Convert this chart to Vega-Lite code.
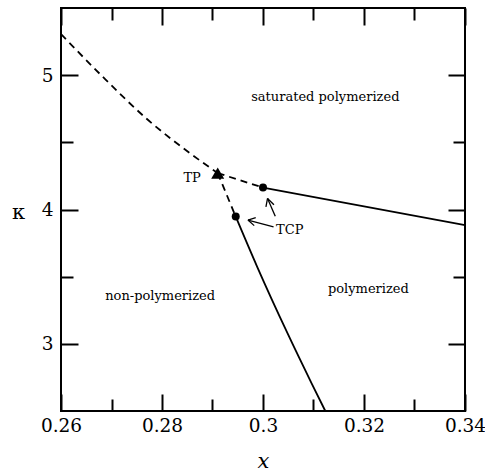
{
  "$schema": "https://vega.github.io/schema/vega-lite/v6.json",
  "width": 404,
  "height": 403,
  "autosize": {"type": "none"},
  "padding": {"left": 61, "top": 8, "right": 20, "bottom": 60},
  "config": {
    "font": "DejaVu Serif",
    "view": {"stroke": "black", "strokeWidth": 2},
    "axis": {
      "domain": false, "grid": false, "tickColor": "black", "tickWidth": 2,
      "labelFont": "DejaVu Serif", "labelFontSize": 18.5, "labelColor": "black",
      "titleFont": "DejaVu Serif", "titleFontSize": 21, "titleColor": "black", "titleFontWeight": "normal"
    },
    "style": {"guide-label": {"font": "DejaVu Serif"}, "guide-title": {"font": "DejaVu Serif"}},
    "text": {"font": "DejaVu Serif"}
  },
  "datasets": {
    "dashed": [
      {"seg": "a", "i": 0, "x": 0.26, "k": 5.306},
      {"seg": "a", "i": 1, "x": 0.26813, "k": 4.993},
      {"seg": "a", "i": 2, "x": 0.27725, "k": 4.666},
      {"seg": "a", "i": 3, "x": 0.28558, "k": 4.418},
      {"seg": "a", "i": 4, "x": 0.29103, "k": 4.271},
      {"seg": "b", "i": 0, "x": 0.29103, "k": 4.271},
      {"seg": "b", "i": 1, "x": 0.3, "k": 4.163},
      {"seg": "c", "i": 0, "x": 0.29103, "k": 4.271},
      {"seg": "c", "i": 1, "x": 0.2946, "k": 3.947}
    ],
    "solid": [
      {"seg": "a", "i": 0, "x": 0.3, "k": 4.163},
      {"seg": "a", "i": 1, "x": 0.34, "k": 3.883},
      {"seg": "b", "i": 0, "x": 0.2946, "k": 3.947},
      {"seg": "b", "i": 1, "x": 0.29885, "k": 3.573},
      {"seg": "b", "i": 2, "x": 0.30487, "k": 3.077},
      {"seg": "b", "i": 3, "x": 0.30965, "k": 2.704},
      {"seg": "b", "i": 4, "x": 0.31234, "k": 2.5}
    ],
    "arrows": [
      {"seg": "a1s", "i": 0, "x": 0.30243, "k": 3.95},
      {"seg": "a1s", "i": 1, "x": 0.3009, "k": 4.082},
      {"seg": "a1a", "i": 0, "x": 0.30217, "k": 4.035},
      {"seg": "a1a", "i": 1, "x": 0.3009, "k": 4.082},
      {"seg": "a1b", "i": 0, "x": 0.30058, "k": 4.02},
      {"seg": "a1b", "i": 1, "x": 0.3009, "k": 4.082},
      {"seg": "a2s", "i": 0, "x": 0.30209, "k": 3.871},
      {"seg": "a2s", "i": 1, "x": 0.29702, "k": 3.921},
      {"seg": "a2a", "i": 0, "x": 0.29856, "k": 3.939},
      {"seg": "a2a", "i": 1, "x": 0.29702, "k": 3.921},
      {"seg": "a2b", "i": 0, "x": 0.29826, "k": 3.88},
      {"seg": "a2b", "i": 1, "x": 0.29702, "k": 3.921}
    ],
    "points": [
      {"name": "TP", "shape": "triangle-up", "x": 0.29103, "k": 4.271},
      {"name": "TCP1", "shape": "circle", "x": 0.3, "k": 4.163},
      {"name": "TCP2", "shape": "circle", "x": 0.2946, "k": 3.947}
    ],
    "labels": [
      {"text": "saturated polymerized", "x": 0.31234, "k": 4.837},
      {"text": "TP", "x": 0.28597, "k": 4.231},
      {"text": "TCP", "x": 0.3053, "k": 3.85},
      {"text": "non-polymerized", "x": 0.27963, "k": 3.354},
      {"text": "polymerized", "x": 0.32087, "k": 3.407}
    ]
  },
  "layer": [
    {
      "data": {"name": "dashed"},
      "mark": {"type": "line", "color": "black", "strokeWidth": 1.8, "strokeDash": [7, 5], "interpolate": "monotone"},
      "encoding": {
        "x": {"field": "x", "type": "quantitative", "scale": {"domain": [0.26, 0.34], "nice": false, "zero": false},
          "axis": {"orient": "bottom", "values": [0.26, 0.27, 0.28, 0.29, 0.3, 0.31, 0.32, 0.33, 0.34],
            "tickSize": {"condition": {"test": "round(datum.value*100)%2==0", "value": -17}, "value": -12},
            "labelExpr": "round(datum.value*100)%2==0 ? format(datum.value,'.2~f') : ''",
            "labelFont": "DejaVu Serif", "labelFontSize": 18.5,
            "labelPadding": 22, "labelFlush": false, "labelOverlap": false,
            "title": "x", "titleFont": "DejaVu Serif", "titleFontStyle": "italic", "titleX": 202, "titleY": 56, "titleAlign": "center", "titleBaseline": "alphabetic"}},
        "y": {"field": "k", "type": "quantitative", "scale": {"domain": [2.5, 5.5], "nice": false, "zero": false},
          "axis": {"orient": "left", "values": [3, 3.5, 4, 4.5, 5],
            "tickSize": {"condition": {"test": "datum.value%1==0", "value": -17}, "value": -12},
            "labelExpr": "datum.value%1==0 ? format(datum.value,'d') : ''",
            "labelFont": "DejaVu Serif", "labelFontSize": 18.5,
            "labelPadding": 25, "labelOverlap": false, "labelFlush": false,
            "title": "κ", "titleFont": "DejaVu Serif", "titleAngle": 0, "titleX": -43, "titleY": 204, "titleAlign": "center", "titleBaseline": "middle"}},
        "detail": {"field": "seg"},
        "order": {"field": "i"}
      }
    },
    {
      "data": {"name": "solid"},
      "mark": {"type": "line", "color": "black", "strokeWidth": 1.8, "interpolate": "monotone"},
      "encoding": {
        "x": {"field": "x", "type": "quantitative", "scale": {"domain": [0.26, 0.34], "nice": false, "zero": false},
          "axis": {"orient": "top", "values": [0.26, 0.27, 0.28, 0.29, 0.3, 0.31, 0.32, 0.33, 0.34],
            "tickSize": {"condition": {"test": "round(datum.value*100)%2==0", "value": -17}, "value": -12},
            "labels": false, "title": null}},
        "y": {"field": "k", "type": "quantitative", "scale": {"domain": [2.5, 5.5], "nice": false, "zero": false},
          "axis": {"orient": "right", "values": [3, 3.5, 4, 4.5, 5],
            "tickSize": {"condition": {"test": "datum.value%1==0", "value": -17}, "value": -12},
            "labels": false, "title": null}},
        "detail": {"field": "seg"},
        "order": {"field": "i"}
      }
    },
    {
      "data": {"name": "arrows"},
      "mark": {"type": "line", "color": "black", "strokeWidth": 1.3},
      "encoding": {
        "x": {"field": "x", "type": "quantitative", "axis": null},
        "y": {"field": "k", "type": "quantitative", "axis": null},
        "detail": {"field": "seg"},
        "order": {"field": "i"}
      }
    },
    {
      "data": {"name": "points"},
      "mark": {"type": "point", "filled": true, "color": "black", "opacity": 1},
      "encoding": {
        "x": {"field": "x", "type": "quantitative", "axis": null},
        "y": {"field": "k", "type": "quantitative", "axis": null},
        "shape": {"field": "shape", "type": "nominal", "scale": null, "legend": null},
        "size": {"condition": {"test": "datum.shape == 'circle'", "value": 64}, "value": 170}
      }
    },
    {
      "data": {"name": "labels"},
      "mark": {"type": "text", "font": "DejaVu Serif", "fontSize": 13, "color": "black", "align": "center", "baseline": "middle"},
      "encoding": {
        "x": {"field": "x", "type": "quantitative", "axis": null},
        "y": {"field": "k", "type": "quantitative", "axis": null},
        "text": {"field": "text"}
      }
    }
  ],
  "resolve": {"axis": {"x": "independent", "y": "independent"}}
}
